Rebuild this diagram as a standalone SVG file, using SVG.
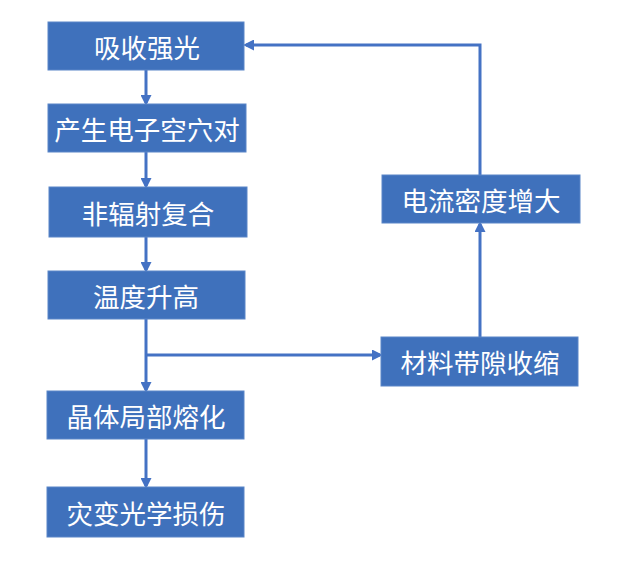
<svg xmlns="http://www.w3.org/2000/svg" width="634" height="564" viewBox="0 0 634 564">
<style>
.box{fill:#3F71BC;stroke:#5A86C8;stroke-width:1}
.t{fill:#fff;font-family:"Noto Sans CJK SC",sans-serif;font-size:26.5px;text-anchor:middle;dominant-baseline:central}
.c{fill:none;stroke:#4472C4;stroke-width:3}
</style>
<defs>
<marker id="a" markerWidth="11" markerHeight="11" refX="8" refY="5.5" orient="auto" markerUnits="userSpaceOnUse" viewBox="0 0 11 11">
<path d="M0,0 L11,5.5 L0,11 Z" fill="#4472C4"/>
</marker>
</defs>
<rect width="634" height="564" fill="#fff"/>
<g id="connectors">
<line class="c" x1="146" y1="70" x2="146" y2="103" marker-end="url(#a)"/>
<line class="c" x1="146" y1="152" x2="146" y2="186" marker-end="url(#a)"/>
<line class="c" x1="146" y1="237" x2="146" y2="270" marker-end="url(#a)"/>
<line class="c" x1="146" y1="319" x2="146" y2="390" marker-end="url(#a)"/>
<line class="c" x1="146" y1="439" x2="146" y2="486" marker-end="url(#a)"/>
<line class="c" x1="146" y1="355" x2="380" y2="355" marker-end="url(#a)"/>
<line class="c" x1="480" y1="337" x2="480" y2="224" marker-end="url(#a)"/>
<polyline class="c" points="480,175 480,45 246,45" marker-end="url(#a)"/>
</g>
<g id="n1"><rect class="box" x="48" y="22" width="196" height="48"/><text class="t" x="147" y="46">吸收强光</text></g>
<g id="n2"><rect class="box" x="48" y="104" width="198" height="48"/><text class="t" x="147" y="128">产生电子空穴对</text></g>
<g id="n3"><rect class="box" x="49" y="187" width="198" height="50"/><text class="t" x="148" y="212">非辐射复合</text></g>
<g id="n4"><rect class="box" x="48" y="271" width="197" height="48"/><text class="t" x="146" y="295">温度升高</text></g>
<g id="n5"><rect class="box" x="47" y="391" width="197" height="48"/><text class="t" x="146" y="415">晶体局部熔化</text></g>
<g id="n6"><rect class="box" x="47" y="487" width="197" height="50"/><text class="t" x="146" y="512">灾变光学损伤</text></g>
<g id="n7"><rect class="box" x="382" y="175" width="198" height="48"/><text class="t" x="481" y="199">电流密度增大</text></g>
<g id="n8"><rect class="box" x="381" y="337" width="197" height="49"/><text class="t" x="480" y="361">材料带隙收缩</text></g>
</svg>
